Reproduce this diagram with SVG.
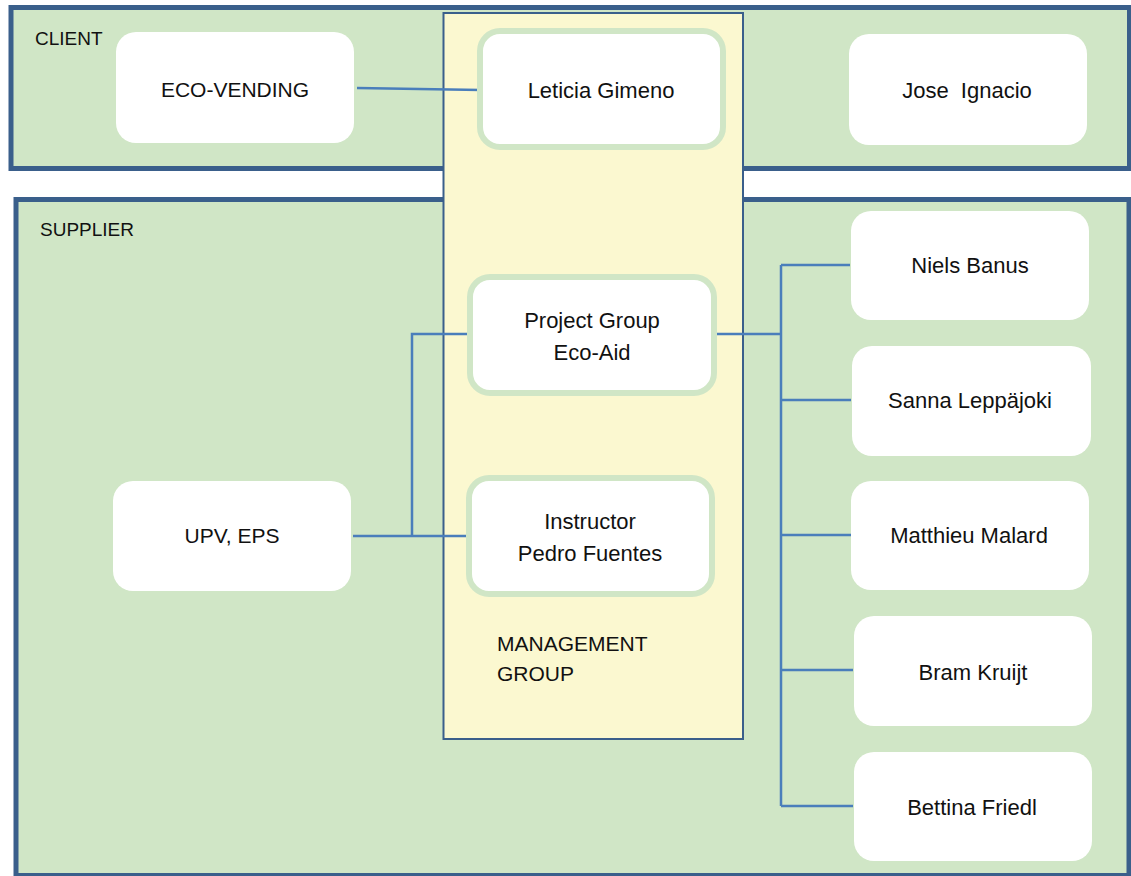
<svg xmlns="http://www.w3.org/2000/svg" width="1131" height="876" viewBox="0 0 1131 876">
<style>
.group{fill:#D0E6C6;stroke:#3A5F8B;stroke-width:5}
.mgmt{fill:#FBF8D0;stroke:#3A5F8B;stroke-width:2}
.node{fill:#FFFFFF}
.mnode{fill:#FFFFFF;stroke:#D0E6C6;stroke-width:6}
.t{font-family:"Liberation Sans",Arial,sans-serif;font-size:22px;fill:#111111;text-anchor:middle}
.caps{font-size:21px}
.lbl{font-family:"Liberation Sans",Arial,sans-serif;font-size:19px;fill:#111111}
.mlbl{font-size:21px}
.c{fill:none;stroke:#4A7EBB;stroke-width:2.5}
</style>
<rect width="1131" height="876" fill="#FFFFFF"/>
<g id="client-group">
<rect class="group" x="11" y="7.5" width="1118.5" height="161"/>
<text class="lbl" x="35" y="45">CLIENT</text>
</g>
<g id="supplier-group">
<rect class="group" x="16" y="199.5" width="1113" height="676"/>
<text class="lbl" x="40" y="236">SUPPLIER</text>
</g>
<g id="management-group">
<rect class="mgmt" x="443.5" y="13" width="299.5" height="726"/>
<text class="lbl mlbl" x="497" y="651">MANAGEMENT</text>
<text class="lbl mlbl" x="497" y="681">GROUP</text>
</g>
<g id="connectors">
<path class="c" d="M357 88 L481 90"/>
<path class="c" d="M353 536 L469 536 M412 536 L412 334 L470 334"/>
<path class="c" d="M716 334 L781 334 M781 265 L781 806 M781 265 L850 265 M781 400 L851 400 M781 535 L851 535 M781 670 L853 670 M781 806 L853 806"/>
</g>
<g id="eco-vending">
<rect class="node" x="116" y="32" width="238" height="111" rx="20"/>
<text class="t caps" x="235" y="97">ECO-VENDING</text>
</g>
<g id="leticia-gimeno">
<rect class="mnode" x="480" y="31" width="243" height="116" rx="20"/>
<text class="t" x="601" y="98">Leticia Gimeno</text>
</g>
<g id="jose-ignacio">
<rect class="node" x="849" y="34" width="238" height="111" rx="20"/>
<text class="t" x="967" y="98" xml:space="preserve">Jose  Ignacio</text>
</g>
<g id="project-group">
<rect class="mnode" x="470" y="277" width="244" height="116" rx="20"/>
<text class="t" x="592" y="328">Project Group</text>
<text class="t" x="592" y="360">Eco-Aid</text>
</g>
<g id="instructor">
<rect class="mnode" x="469" y="478" width="243" height="116" rx="20"/>
<text class="t" x="590" y="529">Instructor</text>
<text class="t" x="590" y="561">Pedro Fuentes</text>
</g>
<g id="upv-eps">
<rect class="node" x="113" y="481" width="238" height="110" rx="20"/>
<text class="t caps" x="232" y="543">UPV, EPS</text>
</g>
<g id="niels-banus">
<rect class="node" x="851" y="211" width="238" height="109" rx="20"/>
<text class="t" x="970" y="273">Niels Banus</text>
</g>
<g id="sanna-leppajoki">
<rect class="node" x="852" y="346" width="239" height="110" rx="20"/>
<text class="t" x="970" y="408">Sanna Leppäjoki</text>
</g>
<g id="matthieu-malard">
<rect class="node" x="851" y="481" width="238" height="109" rx="20"/>
<text class="t" x="969" y="543">Matthieu Malard</text>
</g>
<g id="bram-kruijt">
<rect class="node" x="854" y="616" width="238" height="110" rx="20"/>
<text class="t" x="973" y="680">Bram Kruijt</text>
</g>
<g id="bettina-friedl">
<rect class="node" x="854" y="752" width="238" height="109" rx="20"/>
<text class="t" x="972" y="815">Bettina Friedl</text>
</g>
</svg>
